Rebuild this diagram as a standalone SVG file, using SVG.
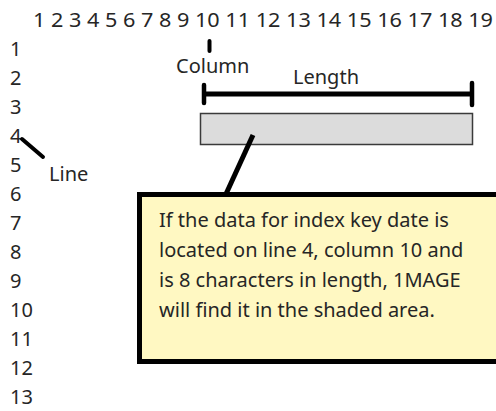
<svg xmlns="http://www.w3.org/2000/svg" width="496" height="411" viewBox="0 0 496 411">
  <style>
    text { font-family: "Noto Sans", "Open Sans", "Liberation Sans", sans-serif; fill: #262626; font-size: 20px; }
    .ptr { stroke: #000; fill: none; stroke-linecap: round; }
  </style>
  <rect width="496" height="411" fill="#fff"/>

  <!-- column ruler -->
  <g id="column-ruler">
    <text x="33" y="27" textLength="460" lengthAdjust="spacingAndGlyphs">1 2 3 4 5 6 7 8 9 10 11 12 13 14 15 16 17 18 19</text>
  </g>

  <!-- line ruler -->
  <g id="line-ruler">
    <text x="10" y="56">1</text>
    <text x="10" y="85">2</text>
    <text x="10" y="114">3</text>
    <text x="10" y="143">4</text>
    <text x="10" y="172">5</text>
    <text x="10" y="201">6</text>
    <text x="10" y="230">7</text>
    <text x="10" y="259">8</text>
    <text x="10" y="288">9</text>
    <text x="10" y="317">10</text>
    <text x="10" y="346">11</text>
    <text x="10" y="375">12</text>
    <text x="10" y="404">13</text>
  </g>

  <g id="column-label">
    <text x="176" y="73">Column</text>
  </g>
  <g id="length-label">
    <text x="293" y="84">Length</text>
  </g>
  <g id="line-label">
    <text x="49" y="181">Line</text>
  </g>

  <!-- shaded field area -->
  <g id="field">
    <rect x="200.5" y="113.5" width="272" height="31" fill="#dcdcdc" stroke="#3a3a3a" stroke-width="1.5"/>
  </g>

  <!-- callout note -->
  <g id="note">
    <rect x="139.5" y="194.5" width="370" height="167" fill="#fff8c2" stroke="#000" stroke-width="5"/>
    <text x="159" y="227">If the data for index key date is</text>
    <text x="159" y="257">located on line 4, column 10 and</text>
    <text x="159" y="287">is 8 characters in length, 1MAGE</text>
    <text x="159" y="317">will find it in the shaded area.</text>
  </g>

  <g id="connectors">
    <line class="ptr" x1="209.5" y1="41" x2="209.5" y2="51" stroke-width="4"/>
    <line class="ptr" x1="22" y1="139" x2="43" y2="157" stroke-width="4"/>
    <line x1="204" y1="94" x2="472" y2="94" stroke="#000" stroke-width="5"/>
    <line class="ptr" x1="204" y1="85" x2="204" y2="103" stroke-width="4.5"/>
    <line class="ptr" x1="472" y1="83" x2="472" y2="105" stroke-width="4.5"/>
    <line x1="253" y1="135" x2="226" y2="194" stroke="#000" stroke-width="5"/>
  </g>
</svg>
